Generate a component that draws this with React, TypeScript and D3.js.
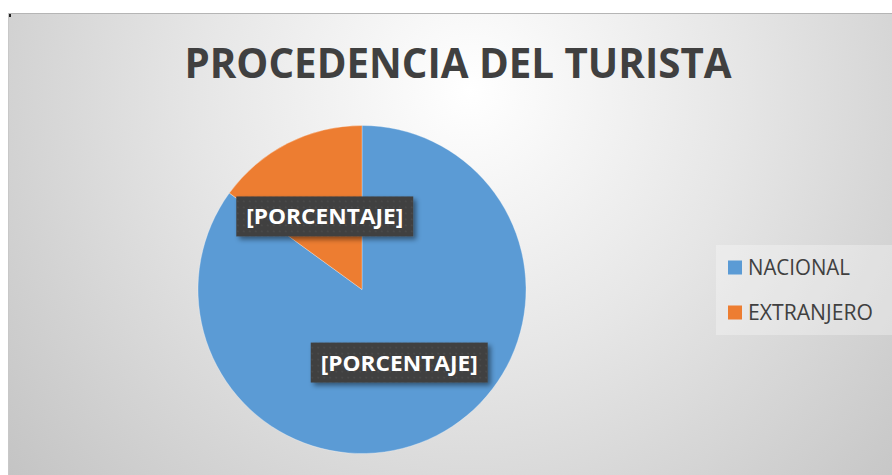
import * as d3 from 'd3';

const categories = ['NACIONAL', 'EXTRANJERO'];
const values = [85, 15];
const colors = ['#5B9BD5', '#ED7D31'];
const labelText = '[PORCENTAJE]';
const title = 'PROCEDENCIA DEL TURISTA';

const App = () => {
  const width = 892;
  const height = 475;
  const cx = 362;
  const cy = 289.5;
  const radius = 164;

  const data = categories.map((c, i) => ({ name: c, value: values[i], color: colors[i] }));

  const pie = d3
    .pie<{ name: string; value: number; color: string }>()
    .sort(null)
    .value((d) => d.value);
  const arcs = pie(data);
  const arc = d3.arc<d3.PieArcDatum<{ name: string; value: number; color: string }>>()
    .innerRadius(0)
    .outerRadius(radius);

  const legendScale = d3.scaleBand().domain(categories).range([245, 335]).paddingInner(0);

  return (
    <svg
      width={width}
      height={height}
      style={{ position: 'absolute', left: 0, top: 0, background: '#fff' }}
      fontFamily="'Open Sans', sans-serif"
    >
      <defs>
        <radialGradient id="bg" gradientUnits="userSpaceOnUse" cx={470} cy={90} r={600}>
          <stop offset="0" stopColor="#ffffff" />
          <stop offset="0.45" stopColor="#e6e6e6" />
          <stop offset="1" stopColor="#c4c4c4" />
        </radialGradient>
        <filter id="shadow" x="-20%" y="-30%" width="140%" height="170%">
          <feDropShadow dx="3" dy="3" stdDeviation="2.5" floodColor="#000" floodOpacity="0.45" />
        </filter>
        <pattern id="dots" width="6" height="6" patternUnits="userSpaceOnUse">
          <rect width="6" height="6" fill="#404040" />
          <circle cx="3" cy="3" r="1" fill="#4a4a4a" />
        </pattern>
      </defs>

      <rect x={8} y={13} width={width - 8} height={height - 13} fill="url(#bg)" />
      <line x1={8} x2={width} y1={13.5} y2={13.5} stroke="#b5b5b5" />
      <line x1={8.5} x2={8.5} y1={13} y2={height} stroke="#c8c8c8" />
      <rect x={9} y={14} width={2} height={3} fill="#222" />

      <text
        x={458}
        y={78}
        textAnchor="middle"
        fontSize={42}
        fontWeight="bold"
        fill="#404040"
        textLength={547}
        lengthAdjust="spacingAndGlyphs"
      >
        {title}
      </text>

      <g transform={`translate(${cx},${cy})`}>
        {arcs.map((a, i) => (
          <path key={i} d={arc(a) || ''} fill={a.data.color} stroke="#ffffff" strokeOpacity={0.4} strokeWidth={0.75} />
        ))}
        {arcs.map((a, i) => {
          const [lx, ly] = arc.centroid(a);
          return (
            <g key={'l' + i} transform={`translate(${lx},${ly})`}>
              <rect x={-88.5} y={-20} width={177} height={40} fill="url(#dots)" filter="url(#shadow)" />
              <text
                x={0}
                y={8}
                textAnchor="middle"
                fontSize={22}
                fontWeight="bold"
                fill="#ffffff"
                textLength={157}
                lengthAdjust="spacingAndGlyphs"
              >
                {labelText}
              </text>
            </g>
          );
        })}
      </g>

      <rect x={716} y={245} width={176} height={90} fill="#ffffff" fillOpacity={0.3} />
      {categories.map((c, i) => {
        const y = (legendScale(c) || 0) + legendScale.bandwidth() / 2;
        return (
          <g key={c}>
            <rect x={728} y={y - 7} width={14} height={14} fill={colors[i]} />
            <text
              x={748}
              y={y + 7.5}
              fontSize={21}
              fill="#404040"
              textLength={c === 'NACIONAL' ? 102 : 125}
              lengthAdjust="spacingAndGlyphs"
            >
              {c}
            </text>
          </g>
        );
      })}
    </svg>
  );
};

export default App;
